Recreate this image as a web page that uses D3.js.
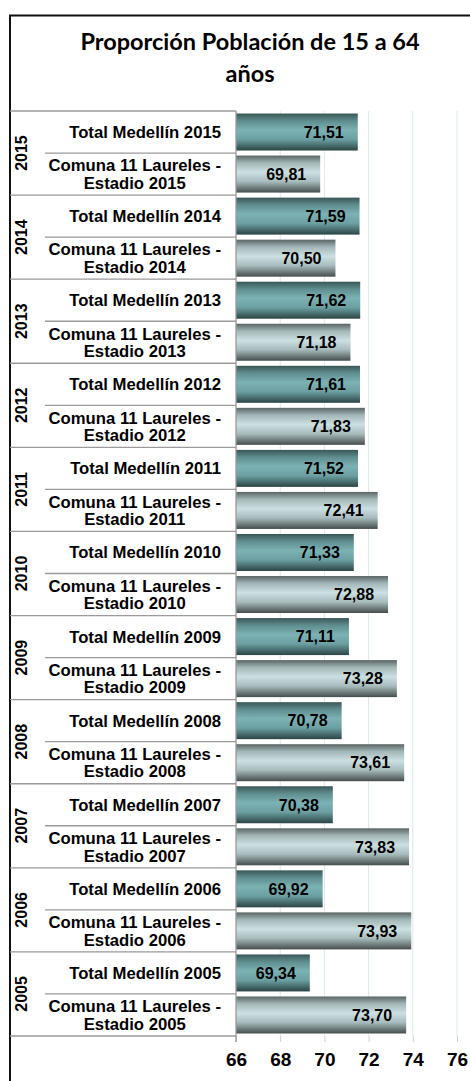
<!DOCTYPE html>
<html lang="es">
<head>
    <meta charset="utf-8">
    <script src="https://d3js.org/d3.v7.min.js"></script>
    <style>
        body { margin: 0; background: #fff; }
        svg text { font-family: Arial, "Liberation Sans", sans-serif; font-weight: bold; fill: #000; }
    </style>
</head>
<body>
    <svg></svg>
    <script>
        // datos
        const years = [2015, 2014, 2013, 2012, 2011, 2010, 2009, 2008, 2007, 2006, 2005]
        const totalMedellin = [71.51, 71.59, 71.62, 71.61, 71.52, 71.33, 71.11, 70.78, 70.38, 69.92, 69.34]
        const comuna11 = [69.81, 70.50, 71.18, 71.83, 72.41, 72.88, 73.28, 73.61, 73.83, 73.93, 73.70]
        const xTicks = [66, 68, 70, 72, 74, 76]
        const titleLines = ['Proporción Población de 15 a 64', 'años']

        const W = 470, H = 1081
        const plot = { left: 236, right: 457, top: 111, bottom: 1036 }
        const FONT = 'Arial, "Liberation Sans", sans-serif'

        // una fila por barra
        let rows = []
        years.forEach((yr, i) => {
            rows.push({ key: 'T' + yr, year: yr, kind: 'total', value: totalMedellin[i], lines: ['Total Medellín ' + yr] })
            rows.push({ key: 'C' + yr, year: yr, kind: 'comuna', value: comuna11[i], lines: ['Comuna 11 Laureles -', 'Estadio ' + yr] })
        })

        let svg = d3.select('svg')
            .attr('width', W)
            .attr('height', H)

        let defs = svg.append('defs')
        function grad(id, stops) {
            let g = defs.append('linearGradient')
                .attr('id', id)
                .attr('x1', 0).attr('y1', 0).attr('x2', 0).attr('y2', 1)
            stops.forEach(s => g.append('stop').attr('offset', s[0]).attr('stop-color', s[1]))
        }
        grad('gTotal', [[0, '#3b5656'], [0.2, '#5f8e8f'], [0.45, '#7db2b4'], [0.7, '#6b9fa1'], [1, '#2c4444']])
        grad('gComuna', [[0, '#5a6464'], [0.2, '#a3b7b8'], [0.45, '#cde0e1'], [0.7, '#a8bcbd'], [1, '#454d4d']])

        const x = d3.scaleLinear()
            .domain([66, 76])
            .range([plot.left, plot.right])

        const y = d3.scaleBand()
            .domain(rows.map(d => d.key))
            .range([plot.top, plot.bottom])
            .paddingInner(0.12)
            .paddingOuter(0.06)

        // marco exterior
        svg.append('path')
            .attr('d', `M10,${H} V15.5 H${W}`)
            .attr('fill', 'none')
            .attr('stroke', '#111')
            .attr('stroke-width', 2)

        // titulo
        svg.append('g').selectAll('text')
            .data(titleLines)
            .enter()
            .append('text')
            .attr('x', 250)
            .attr('y', (d, i) => 50 + i * 32)
            .attr('text-anchor', 'middle')
            .style('font-family', 'Lato, "Open Sans", sans-serif')
            .style('font-size', '23.5px')
            .text(d => d)

        // lineas de guia
        svg.append('g').selectAll('line')
            .data(xTicks.slice(1))
            .enter()
            .append('line')
            .attr('x1', d => x(d)).attr('x2', d => x(d))
            .attr('y1', plot.top).attr('y2', plot.bottom)
            .attr('stroke', '#dde7e9')
            .attr('stroke-width', 1)

        // eje x
        let xAxis = d3.axisBottom(x)
            .tickValues(xTicks)
            .tickSize(6)
            .tickPadding(11)
            .tickFormat(d3.format('d'))
        let gx = svg.append('g')
            .attr('transform', `translate(0,${plot.bottom})`)
            .call(xAxis)
        gx.attr('font-family', FONT)
        gx.select('.domain').remove()
        gx.selectAll('.tick line').attr('stroke', '#c8d2d4')
        gx.selectAll('.tick text')
            .style('font-family', FONT)
            .style('font-size', '19px')
            .attr('fill', '#000')

        // barras
        svg.append('g').selectAll('rect')
            .data(rows)
            .enter()
            .append('rect')
            .attr('x', x(66))
            .attr('y', d => y(d.key))
            .attr('width', d => x(d.value) - x(66))
            .attr('height', y.bandwidth())
            .attr('fill', d => d.kind === 'total' ? 'url(#gTotal)' : 'url(#gComuna)')

        // etiquetas de valor
        const fmt = v => d3.format('.2f')(v).replace('.', ',')
        svg.append('g').selectAll('text')
            .data(rows)
            .enter()
            .append('text')
            .attr('x', d => x(d.value) - 14)
            .attr('y', d => y(d.key) + y.bandwidth() / 2)
            .attr('dy', '0.36em')
            .attr('text-anchor', 'end')
            .style('font-family', FONT)
            .style('font-size', '16px')
            .text(d => fmt(d.value))

        // tabla de categorias a la izquierda
        const step = y.step()
        let grid = svg.append('g')
            .attr('stroke', '#9a9a9a')
            .attr('stroke-width', 1.3)
        years.forEach((yr, i) => {
            let y0 = plot.top + i * 2 * step
            grid.append('line')
                .attr('x1', 10).attr('x2', plot.left)
                .attr('y1', y0).attr('y2', y0)
            grid.append('line')
                .attr('x1', 45).attr('x2', plot.left)
                .attr('y1', y0 + step).attr('y2', y0 + step)
        })
        grid.append('line')
            .attr('x1', 10).attr('x2', plot.left)
            .attr('y1', plot.bottom).attr('y2', plot.bottom)
        grid.append('line')
            .attr('x1', plot.left).attr('x2', plot.left)
            .attr('y1', plot.top).attr('y2', plot.bottom + 6)

        // nombres de categoria
        let cat = svg.append('g').selectAll('text')
            .data(rows)
            .enter()
            .append('text')
            .style('font-family', FONT)
            .style('font-size', '16.7px')
            .attr('text-anchor', 'middle')
        cat.each(function (d) {
            let t = d3.select(this)
            let cy = y(d.key) + y.bandwidth() / 2
            let lh = 17.5
            d.lines.forEach((ln, j) => {
                t.append('tspan')
                    .attr('y', cy + (j - (d.lines.length - 1) / 2) * lh)
                    .attr('dy', '0.36em')
                    .text(ln)
            })
            // ancho de la linea mas larga, bloque alineado a la derecha
            let w = d3.max(t.selectAll('tspan').nodes(), n => n.getComputedTextLength())
            t.selectAll('tspan').attr('x', 221 - w / 2)
        })

        // anios en vertical
        svg.append('g').selectAll('text')
            .data(years)
            .enter()
            .append('text')
            .attr('transform', (d, i) => `translate(21,${plot.top + (i * 2 + 1) * step}) rotate(-90)`)
            .attr('text-anchor', 'middle')
            .attr('dy', '0.36em')
            .style('font-family', FONT)
            .style('font-size', '16px')
            .text(d => d)
    </script>
</body>
</html>
